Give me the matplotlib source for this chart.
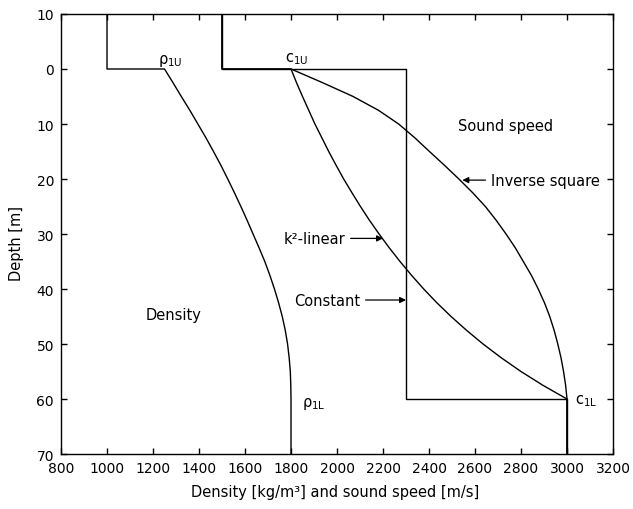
import numpy as np
import matplotlib.pyplot as plt

plt.rcParams['font.family'] = 'DejaVu Sans'
plt.rcParams['font.size'] = 10.5

# depth grid through the gradient layer [m]
depth = np.arange(0, 61, 2.5)

# density in the layer [kg/m^3]
rho = [1250, 1287, 1323, 1360, 1395, 1430, 1463, 1495, 1525, 1554, 1582, 1609, 1635,
       1661, 1686, 1708, 1728, 1746, 1762, 1775, 1785, 1792, 1797, 1799, 1800]

# sound speed profiles [m/s]
c_k2 = [1800, 1824, 1850, 1877, 1904, 1934, 1964, 1996, 2029, 2065, 2102, 2141, 2183,
        2227, 2274, 2324, 2377, 2434, 2496, 2563, 2635, 2714, 2800, 2895, 3000]
c_inv = [1800, 1938, 2070, 2180, 2268, 2338, 2402, 2467, 2530, 2590, 2645, 2692, 2735,
         2775, 2810, 2845, 2875, 2902, 2925, 2944, 2960, 2974, 2985, 2994, 3000]

rho_water = 1000
c_water = 1500
c_const = 2300
c_bottom = 3000
layer_depth = 60
z_top, z_bot = -10, 70

fig = plt.figure(figsize=(6.33, 5.10), dpi=100)
ax = fig.add_axes([0.0964, 0.1078, 0.872, 0.8628])

lw = 1.0
ax.plot([rho_water, rho_water] + rho + [rho[-1]],
        [z_top, 0] + list(depth) + [z_bot], color='k', lw=lw)
ax.plot([c_water, c_water] + c_k2 + [c_bottom],
        [z_top, 0] + list(depth) + [z_bot], color='k', lw=lw)
ax.plot([c_water, c_water] + c_inv + [c_bottom],
        [z_top, 0] + list(depth) + [z_bot], color='k', lw=lw)
ax.plot([c_water, c_water, c_const, c_const, c_bottom, c_bottom],
        [z_top, 0, 0, layer_depth, layer_depth, z_bot], color='k', lw=lw)

ax.set_xlim(800, 3200)
ax.set_ylim(z_bot, z_top)
xt = np.arange(800, 3201, 200)
ax.set_xticks(xt)
yt = np.arange(-10, 71, 10)
ax.set_yticks(yt)
ax.set_yticklabels([str(abs(v)) for v in yt])
ax.tick_params(direction='in', length=4, width=1, top=True, right=True, labelsize=10)
ax.tick_params(axis='x', pad=5)
ax.tick_params(axis='y', pad=5)
for s in ax.spines.values():
    s.set_linewidth(1.0)

ax.set_xlabel('Density [kg/m³] and sound speed [m/s]')
ax.xaxis.set_label_coords(0.497, -0.068)
ax.set_ylabel('Depth [m]', va='center')
ax.yaxis.set_label_coords(-0.081, 0.48)

# labels on the profiles
ax.text(1222, -0.2, 'ρ$_{\\mathregular{1U}}$', ha='left', va='bottom')
ax.text(1774, -0.6, 'c$_{\\mathregular{1U}}$', ha='left', va='bottom')
ax.text(1848, 60.8, 'ρ$_{\\mathregular{1L}}$', ha='left', va='center')
ax.text(3035, 60.2, 'c$_{\\mathregular{1L}}$', ha='left', va='center')
ax.text(2735, 10.2, 'Sound speed', ha='center', va='center')
ax.text(1291, 44.7, 'Density', ha='center', va='center')

arrow = dict(arrowstyle='-|>', color='k', lw=0.9, mutation_scale=9, shrinkA=2, shrinkB=0)
ax.annotate('Inverse square', xy=(2545, 20.2), xytext=(2670, 20.2),
            ha='left', va='center', arrowprops=arrow)
ax.annotate('k²-linear', xy=(2200, 30.8), xytext=(2035, 30.8),
            ha='right', va='center', arrowprops=arrow)
ax.annotate('Constant', xy=(c_const, 42), xytext=(2100, 42),
            ha='right', va='center', arrowprops=arrow)

fig.savefig('out.png', dpi=100)
